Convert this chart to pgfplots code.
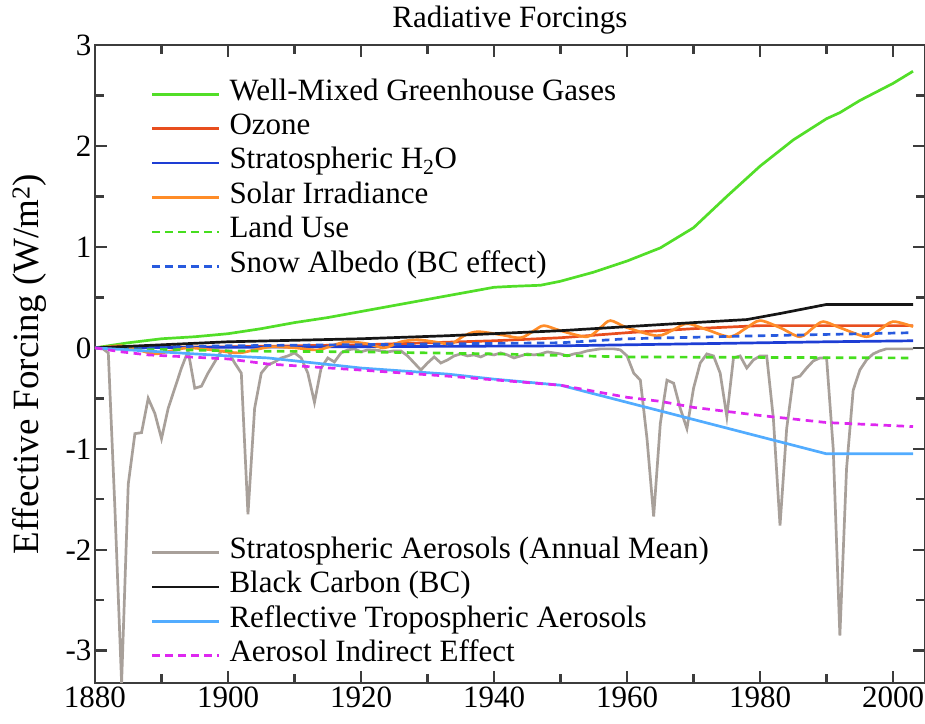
\documentclass[border=0pt]{standalone}
\usepackage{fontspec}
\setmainfont{Liberation Serif}
\usepackage{pgfplots}
\pgfplotsset{compat=1.18}
\definecolor{cghg}{RGB}{82,222,40}
\definecolor{cozone}{RGB}{232,78,30}
\definecolor{ch2o}{RGB}{30,62,212}
\definecolor{csolar}{RGB}{255,140,40}
\definecolor{cland}{RGB}{70,222,30}
\definecolor{csnow}{RGB}{40,90,222}
\definecolor{cstrat}{RGB}{168,160,154}
\definecolor{cbc}{RGB}{22,22,22}
\definecolor{crefl}{RGB}{82,172,255}
\definecolor{caie}{RGB}{222,40,240}
\definecolor{caxis}{RGB}{60,60,60}
\newcommand{\bigfont}{\fontsize{31bp}{36bp}\selectfont}
\pgfplotsset{
  base/.style={
    at={(0,0)}, anchor=south west,
    scale only axis, width=830bp, height=638bp,
    xmin=1880, xmax=2004.8, ymin=-3.32, ymax=3,
  },
  mylegend/.style={
    legend style={draw=none, fill=none, inner sep=0pt, row sep=0pt,
      font=\bigfont,
      nodes={inner xsep=0pt, inner ysep=0pt, text height=23bp, text depth=11.4bp, anchor=west},
      /tikz/every odd column/.append style={column sep=9bp},
      anchor=north west},
    legend cell align=left,
    legend image code/.code={\draw[##1] (0bp,0bp) -- (67bp,0bp);},
  },
  lw/.style={line width=2.7bp},
  dsh/.style={dash pattern=on 7.5bp off 5.5bp},
}
\begin{document}
\begin{tikzpicture}
\begin{axis}[base, mylegend,
  legend style={at={(axis description cs:0.067,0.95)}},
  xtick={1880,1900,1920,1940,1960,1980,2000},
  xticklabels={1880,1900,1920,1940,1960,1980,2000},
  minor xtick={1890,1910,1930,1950,1970,1990},
  ytick={-3,-2,-1,0,1,2,3},
  yticklabels={{-3},{-2},{-1},{0},{1},{2},{3}},
  minor ytick={-2.5,-1.5,-0.5,0.5,1.5,2.5},
  tick align=inside, major tick length=12bp, minor tick length=9bp,
  axis line style={line width=2.4bp, caxis},
  every tick/.style={line width=2.4bp, caxis},
  tick label style={font=\bigfont},
  title={Radiative Forcings},
  title style={font=\bigfont, at={(axis description cs:0.5,1)}, anchor=base, yshift=12bp},
  ylabel={Effective Forcing (W/m\textsuperscript{2})},
  every axis y label/.style={at={(axis description cs:-0.079,0.5)}, rotate=90, anchor=center, font=\fontsize{37bp}{42bp}\selectfont},
]
% Stratospheric aerosols (annual mean)
\addplot[cstrat, lw, forget plot] coordinates {
(1880,0.0) (1881,0.0) (1882,-0.05) (1883,-1.6) (1884,-3.32) (1885,-1.35) (1886,-0.85) (1887,-0.84)
(1888,-0.5) (1889,-0.65) (1890,-0.9) (1891,-0.6) (1892,-0.4) (1893,-0.2) (1894,-0.03) (1895,-0.4)
(1896,-0.38) (1897,-0.25) (1898,-0.14) (1899,-0.03) (1900,-0.03) (1901,-0.15) (1902,-0.25) (1903,-1.65)
(1904,-0.6) (1905,-0.25) (1906,-0.17) (1907,-0.14) (1908,-0.1) (1909,-0.08) (1910,-0.05) (1911,-0.1)
(1912,-0.25) (1913,-0.54) (1914,-0.2) (1915,-0.1) (1916,-0.14) (1917,-0.05) (1918,-0.02) (1919,-0.01)
(1920,-0.04) (1921,-0.02) (1922,-0.02) (1923,-0.03) (1924,-0.04) (1925,-0.03) (1926,-0.03) (1927,-0.08)
(1928,-0.15) (1929,-0.22) (1930,-0.15) (1931,-0.09) (1932,-0.15) (1933,-0.12) (1934,-0.08) (1935,-0.06)
(1936,-0.08) (1937,-0.07) (1938,-0.09) (1939,-0.06) (1940,-0.07) (1941,-0.05) (1942,-0.07) (1943,-0.1)
(1944,-0.08) (1945,-0.06) (1946,-0.07) (1947,-0.06) (1948,-0.04) (1949,-0.05) (1950,-0.06) (1951,-0.08)
(1952,-0.06) (1953,-0.05) (1954,-0.03) (1955,-0.02) (1956,-0.01) (1957,-0.01) (1958,-0.01) (1959,-0.02)
(1960,-0.08) (1961,-0.25) (1962,-0.32) (1963,-0.9) (1964,-1.67) (1965,-0.75) (1966,-0.32) (1967,-0.35)
(1968,-0.6) (1969,-0.8) (1970,-0.4) (1971,-0.15) (1972,-0.06) (1973,-0.08) (1974,-0.25) (1975,-0.68)
(1976,-0.1) (1977,-0.08) (1978,-0.2) (1979,-0.12) (1980,-0.08) (1981,-0.08) (1982,-0.7) (1983,-1.76)
(1984,-0.8) (1985,-0.3) (1986,-0.28) (1987,-0.2) (1988,-0.13) (1989,-0.1) (1990,-0.1) (1991,-1.0)
(1992,-2.85) (1993,-1.2) (1994,-0.42) (1995,-0.22) (1996,-0.12) (1997,-0.06) (1998,-0.03) (1999,-0.01)
(2000,-0.01) (2001,-0.01) (2002,-0.01) (2003,-0.01)};
% Well-mixed GHG
\addplot[cghg, lw] coordinates {
(1880,0) (1885,0.05) (1890,0.09) (1895,0.11) (1900,0.14) (1905,0.19) (1910,0.25) (1915,0.3)
(1920,0.36) (1925,0.42) (1930,0.48) (1935,0.54) (1940,0.6) (1943,0.61) (1947,0.62) (1950,0.66)
(1955,0.75) (1960,0.86) (1965,0.99) (1970,1.19) (1975,1.5) (1980,1.8) (1985,2.06) (1990,2.27)
(1992,2.33) (1995,2.45) (2000,2.62) (2003,2.74)};
\addlegendentry{Well-Mixed Greenhouse Gases}
% Ozone
\addplot[cozone, lw] coordinates {
(1880,0) (1900,0.01) (1920,0.03) (1940,0.07) (1950,0.1) (1960,0.15) (1970,0.19) (1980,0.22) (2003,0.22)};
\addlegendentry{Ozone}
% Stratospheric H2O
\addplot[ch2o, lw] coordinates {
(1880,0) (1950,0.02) (1970,0.04) (1990,0.06) (2003,0.07)};
\addlegendentry{Stratospheric H\textsubscript{2}O}
% Solar
\addplot[csolar, lw, smooth, tension=0.5] coordinates {
(1880,0.0) (1882,0.01) (1884,0.02) (1886.5,-0.02) (1889,-0.06) (1891.5,-0.03) (1894,0.0) (1897.5,-0.02)
(1901.5,-0.05) (1904,-0.02) (1906.5,0.01) (1910,0.0) (1913.5,-0.02) (1916,0.03) (1918,0.06) (1921,0.04)
(1923.5,0.0) (1926,0.06) (1928.5,0.08) (1931,0.06) (1933.5,0.04) (1935.5,0.12) (1937.5,0.16) (1941,0.13)
(1944,0.1) (1946,0.17) (1947.5,0.22) (1950,0.17) (1954,0.11) (1956,0.2) (1957.5,0.27) (1960,0.2)
(1964.5,0.12) (1967,0.18) (1969,0.24) (1972,0.18) (1975.5,0.11) (1978,0.2) (1980,0.27) (1983,0.2)
(1986,0.11) (1988,0.2) (1989.5,0.26) (1992,0.2) (1996,0.11) (1998,0.18) (2000,0.26) (2003,0.21)};
\addlegendentry{Solar Irradiance}
% Land use
\addplot[cland, lw, dsh] coordinates {
(1880,0) (1900,-0.03) (1920,-0.04) (1940,-0.06) (1960,-0.09) (2003,-0.1)};
\addlegendentry{Land Use}
% Snow albedo
\addplot[csnow, lw, dsh] coordinates {
(1880,0) (1900,0.02) (1950,0.05) (1960,0.09) (1980,0.12) (2003,0.15)};
\addlegendentry{Snow Albedo (BC effect)}
% Black carbon
\addplot[cbc, lw, forget plot] coordinates {
(1880,0) (1900,0.06) (1920,0.09) (1933,0.12) (1950,0.17) (1960,0.21) (1970,0.25) (1978,0.28) (1983,0.34) (1990,0.43) (2003,0.43)};
% Reflective tropospheric aerosols
\addplot[crefl, lw, forget plot] coordinates {
(1880,0) (1890,-0.04) (1900,-0.08) (1906,-0.1) (1920,-0.2) (1933,-0.26) (1940,-0.31) (1950,-0.37) (1990,-1.05) (2003,-1.05)};
% Aerosol indirect effect
\addplot[caie, lw, dsh, forget plot] coordinates {
(1880,0) (1884,-0.04) (1888,-0.07) (1894,-0.09) (1900,-0.11) (1906,-0.16) (1920,-0.22) (1933,-0.28)
(1950,-0.37) (1960,-0.49) (1965,-0.53) (1970,-0.59) (1980,-0.67) (1990,-0.74) (2003,-0.78)};
\end{axis}
\begin{axis}[base, mylegend, hide axis,
  legend style={at={(axis description cs:0.067,0.2317)}}]
\addlegendimage{cstrat, lw}
\addlegendentry{Stratospheric Aerosols (Annual Mean)}
\addlegendimage{cbc, lw}
\addlegendentry{Black Carbon (BC)}
\addlegendimage{crefl, lw}
\addlegendentry{Reflective Tropospheric Aerosols}
\addlegendimage{caie, lw, dsh}
\addlegendentry{Aerosol Indirect Effect}
\end{axis}
\pgfresetboundingbox
\path (-95bp,-41bp) rectangle (830bp,683bp);
\end{tikzpicture}
\end{document}
